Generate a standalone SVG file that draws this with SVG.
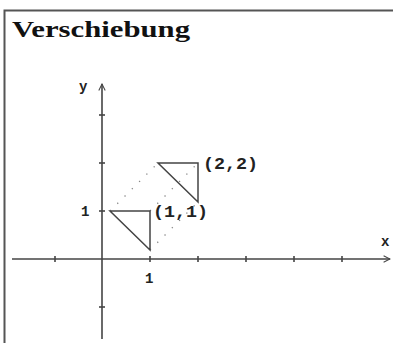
<svg xmlns="http://www.w3.org/2000/svg" width="393" height="343" viewBox="0 0 393 343">
<defs>
<style>
.frame{stroke:#555;stroke-width:2;fill:none}
.axis{stroke:#444;stroke-width:1.6;fill:none}
.tick{stroke:#444;stroke-width:1.6}
.tri{stroke:#444;stroke-width:1.5;fill:none;stroke-linejoin:miter}
.dot{stroke:#888;stroke-width:1.3;stroke-dasharray:1.3 9;fill:none}
.lbl{font-family:"Liberation Mono","DejaVu Sans Mono",monospace;font-weight:bold;fill:#222}
.title{font-family:"Liberation Serif","DejaVu Serif",serif;font-weight:bold;fill:#111}
</style>
<marker id="arr" viewBox="0 0 10 10" refX="9" refY="5" markerWidth="8" markerHeight="8" orient="auto" markerUnits="userSpaceOnUse">
<path d="M1,1 L9,5 L1,9" fill="none" stroke="#444" stroke-width="1.3"/>
</marker>
</defs>
<rect width="393" height="343" fill="#fff"/>
<path class="frame" d="M4.5,343 V10.5 H393"/>
<text class="title" x="12" y="37" font-size="24" textLength="178" lengthAdjust="spacingAndGlyphs">Verschiebung</text>
<g id="axes">
<line class="axis" x1="12" y1="259" x2="390" y2="259" marker-end="url(#arr)"/>
<line class="axis" x1="102" y1="339" x2="102" y2="84" marker-end="url(#arr)"/>
<g class="tick">
<line x1="55" y1="256" x2="55" y2="262"/>
<line x1="150" y1="256" x2="150" y2="262"/>
<line x1="198" y1="256" x2="198" y2="262"/>
<line x1="246" y1="256" x2="246" y2="262"/>
<line x1="294" y1="256" x2="294" y2="262"/>
<line x1="342" y1="256" x2="342" y2="262"/>
<line x1="99" y1="115" x2="105" y2="115"/>
<line x1="99" y1="163" x2="105" y2="163"/>
<line x1="99" y1="211" x2="105" y2="211"/>
<line x1="99" y1="307" x2="105" y2="307"/>
</g>
<text class="lbl" x="79" y="91" font-size="14">y</text>
<text class="lbl" x="381" y="246" font-size="14">x</text>
<text class="lbl" x="145" y="283" font-size="14">1</text>
<text class="lbl" x="81" y="216" font-size="14">1</text>
</g>
<g id="connectors">
<line class="dot" x1="110" y1="211" x2="158" y2="163"/>
<line class="dot" x1="150" y1="211" x2="198" y2="163"/>
<line class="dot" x1="150" y1="250" x2="198" y2="202"/>
</g>
<g id="triangle1">
<path class="tri" d="M110,211 H150 V250 Z"/>
<text class="lbl" x="153" y="217" font-size="16" textLength="55" lengthAdjust="spacingAndGlyphs">(1,1)</text>
</g>
<g id="triangle2">
<path class="tri" d="M158,163 H198 V202 Z"/>
<text class="lbl" x="203" y="169" font-size="16" textLength="55" lengthAdjust="spacingAndGlyphs">(2,2)</text>
</g>
</svg>
